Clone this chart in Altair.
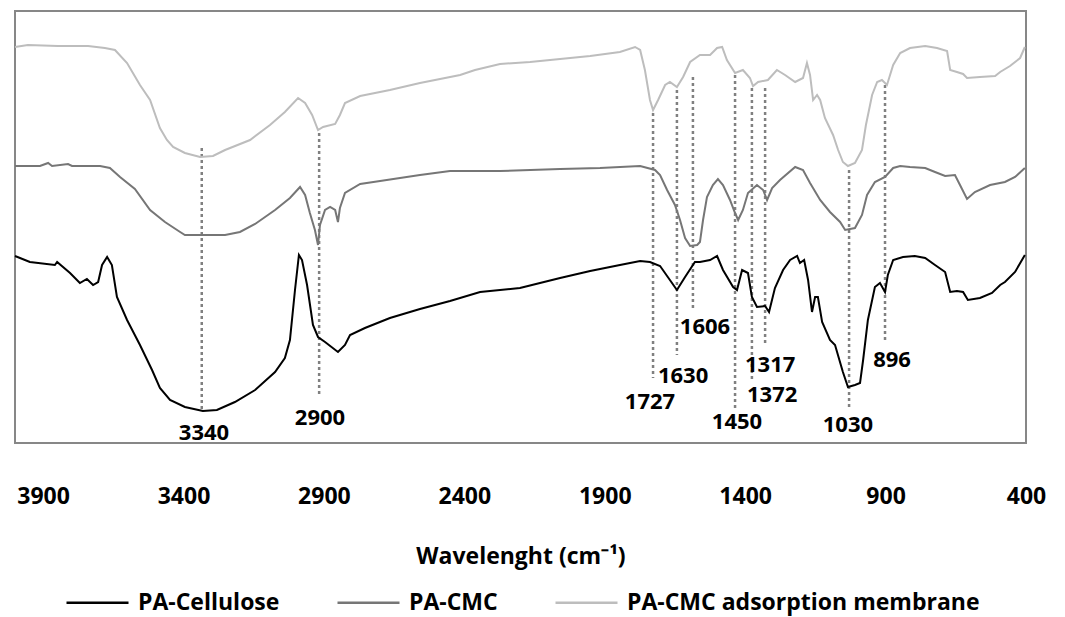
import altair as alt
import pandas as pd

# ---------------- data (wavenumber cm-1, relative signal in arbitrary units) -------------
cell_wn = [4000, 3947, 3858, 3850, 3804, 3769, 3744, 3722, 3704, 3690, 3672, 3655, 3637, 3601,
           3555, 3512, 3484, 3448, 3395, 3331, 3281, 3217, 3145, 3074, 3039, 3021, 3003, 2989,
           2978, 2960, 2939, 2921, 2896, 2850, 2825, 2807, 2754, 2665, 2558, 2451, 2344, 2202,
           2059, 1952, 1846, 1774, 1739, 1703, 1668, 1643, 1614, 1579, 1561, 1525, 1500, 1479,
           1443, 1429, 1411, 1390, 1376, 1358, 1329, 1315, 1294, 1265, 1240, 1215, 1205, 1190,
           1176, 1162, 1151, 1141, 1126, 1098, 1080, 1052, 1034, 1009, 991, 980, 963, 938, 920,
           902, 892, 873, 838, 796, 759, 724, 688, 670, 646, 624, 607, 564, 521, 492, 475, 439, 404]
cell_val = [187, 181, 178, 181, 170, 160, 164, 158, 161, 178, 186, 178, 146, 123,
            98, 73, 55, 43, 36, 32, 33, 41, 53, 71, 85, 103, 153, 188,
            183, 158, 118, 106, 101, 91, 98, 108, 115, 125, 134, 142, 151, 155,
            165, 172, 178, 182, 181, 177, 163, 153, 166, 181, 181, 183, 187, 173,
            156, 153, 173, 170, 146, 136, 137, 131, 155, 173, 183, 187, 180, 183,
            163, 131, 146, 146, 121, 103, 98, 71, 56, 58, 60, 83, 123, 156, 160,
            151, 168, 183, 186, 187, 185, 178, 171, 151, 152, 151, 143, 145, 150, 158, 161, 171, 188]

cmc_wn = [4000, 3911, 3882, 3868, 3811, 3797, 3697, 3662, 3626, 3573, 3519, 3466, 3412, 3395,
          3252, 3199, 3145, 3074, 3021, 2985, 2967, 2950, 2932, 2921, 2914, 2896, 2878, 2860,
          2850, 2843, 2825, 2771, 2700, 2558, 2451, 2273, 2059, 1917, 1774, 1721, 1703, 1678,
          1650, 1632, 1614, 1596, 1571, 1561, 1550, 1536, 1515, 1497, 1479, 1454, 1436, 1425,
          1408, 1390, 1358, 1336, 1322, 1304, 1276, 1222, 1194, 1169, 1133, 1098, 1062, 1044,
          1009, 984, 966, 938, 902, 873, 848, 813, 759, 724, 688, 653, 635, 610, 582, 528, 475,
          439, 404]
cmc_val = [277, 277, 280, 277, 279, 277, 277, 275, 266, 254, 233, 221, 211, 208,
           208, 211, 219, 233, 245, 256, 248, 230, 213, 198, 218, 233, 236, 233,
           221, 235, 250, 259, 262, 268, 272, 272, 274, 275, 277, 273, 268, 253,
           238, 223, 205, 197, 198, 201, 223, 246, 258, 264, 258, 243, 230, 223,
           233, 250, 258, 253, 243, 255, 263, 276, 273, 260, 243, 231, 221, 213,
           215, 228, 248, 261, 266, 275, 277, 276, 275, 271, 267, 268, 258, 244, 251, 258, 261,
           266, 275]

mem_wn = [4000, 3954, 3847, 3740, 3680, 3644, 3601, 3555, 3519, 3484, 3459, 3437, 3395, 3341,
          3295, 3252, 3163, 3092, 3039, 2992, 2967, 2942, 2921, 2903, 2860, 2843, 2825, 2771,
          2665, 2558, 2415, 2362, 2273, 2166, 2059, 1952, 1846, 1792, 1774, 1757, 1739, 1728,
          1710, 1685, 1668, 1643, 1621, 1596, 1561, 1525, 1500, 1482, 1465, 1436, 1408, 1383,
          1372, 1354, 1319, 1287, 1258, 1222, 1194, 1180, 1169, 1158, 1144, 1133, 1116, 1087,
          1069, 1052, 1034, 1009, 984, 970, 948, 930, 913, 895, 873, 848, 813, 759, 717, 681,
          670, 646, 624, 610, 564, 510, 492, 457, 421, 404]
mem_val = [396, 398, 397, 397, 395, 393, 380, 358, 343, 315, 303, 296, 290, 286,
           287, 293, 303, 318, 331, 345, 340, 328, 313, 316, 319, 328, 340, 347,
           353, 360, 368, 373, 379, 381, 384, 387, 391, 396, 393, 373, 343, 333,
           343, 358, 361, 356, 366, 381, 388, 388, 395, 396, 383, 370, 373, 365,
           357, 361, 363, 373, 368, 361, 365, 380, 368, 343, 348, 343, 325, 308,
           293, 281, 277, 280, 293, 318, 348, 361, 363, 358, 378, 390, 395, 397, 395, 392,
           373, 371, 369, 365, 366, 367, 371, 377, 385, 396]

series_names = ["PA-Cellulose", "PA-CMC", "PA-CMC adsorption membrane"]
series_colors = ["#000000", "#767676", "#bdbdbd"]

peak_labels = ["3340", "2900", "1727", "1630", "1606", "1450", "1372", "1317", "1030", "896"]
peak_line_x = [3335, 2917, 1728, 1643, 1586, 1436, 1376, 1329, 1030, 902]
peak_line_top = [295, 310, 330, 353, 366, 368, 355, 355, 273, 358]
peak_line_bottom = [32, 46, 65, 88, 133, 35, 61, 100, 35, 103]
peak_label_x = [3327, 2914, 1739, 1621, 1543, 1429, 1304, 1311, 1034, 877]
peak_label_y = [10, 25, 41, 67, 116, 21, 48, 78, 18, 83]

x_ticks = [3900, 3400, 2900, 2400, 1900, 1400, 900, 400]

# ---------------- build tables ----------------
rows = []
for name, wn, val in zip(series_names, [cell_wn, cmc_wn, mem_wn], [cell_val, cmc_val, mem_val]):
    for w, v in zip(wn, val):
        rows.append({"series": name, "wn": w, "val": v})
spectra = pd.DataFrame(rows)

peaks = pd.DataFrame({
    "plabel": peak_labels, "lx": peak_line_x, "ytop": peak_line_top, "ybot": peak_line_bottom,
    "tx": peak_label_x, "ty": peak_label_y,
})

FONT = "Open Sans"


def xenc(field):
    return alt.X(field, type="quantitative",
                 scale=alt.Scale(domain=[400, 4000], reverse=True, nice=False, zero=False),
                 axis=alt.Axis(values=x_ticks, format="d", title="Wavelenght (cm⁻¹)", grid=False,
                               ticks=False, domain=False, labelFont=FONT, labelFontWeight="bold",
                               labelFontSize=23, labelColor="#000000", labelPadding=42,
                               labelFlush=False, titleFont=FONT, titleFontWeight="bold",
                               titleFontSize=23, titleColor="#000000", titlePadding=37))


def yenc(field):
    return alt.Y(field, type="quantitative",
                 scale=alt.Scale(domain=[0, 432], nice=False, zero=False), axis=None)


rules = alt.Chart(peaks).mark_rule(color="#808080", strokeWidth=2.5, strokeDash=[3, 3]).encode(
    x=xenc("lx"),
    y=yenc("ytop"),
    y2=alt.Y2("ybot"),
)

lines = alt.Chart(spectra).mark_line(strokeWidth=2).encode(
    x=xenc("wn"),
    y=yenc("val"),
    color=alt.Color("series:N", scale=alt.Scale(domain=series_names, range=series_colors),
                    legend=alt.Legend(title=None, orient="none", direction="horizontal",
                                      legendX=50, legendY=559, symbolType="stroke",
                                      symbolSize=3844, symbolStrokeWidth=2.5, labelOffset=8,
                                      columnPadding=52, labelFont=FONT, labelFontWeight="bold",
                                      labelFontSize=23, labelColor="#000000", labelLimit=600)),
)

texts = alt.Chart(peaks).mark_text(font=FONT, fontWeight="bold", fontSize=22, color="#000000",
                                   align="center", baseline="middle").encode(
    x=xenc("tx"),
    y=yenc("ty"),
    text=alt.Text("plabel:N"),
)

chart = alt.layer(rules, lines, texts).properties(
    width=1011, height=432,
    autosize=alt.AutoSizeParams(type="none"),
    padding={"left": 15, "top": 11, "right": 39, "bottom": 174},
).configure_view(stroke="#878787", strokeWidth=2)

chart.save("out.html", embed_options={"renderer": "svg", "actions": False})
